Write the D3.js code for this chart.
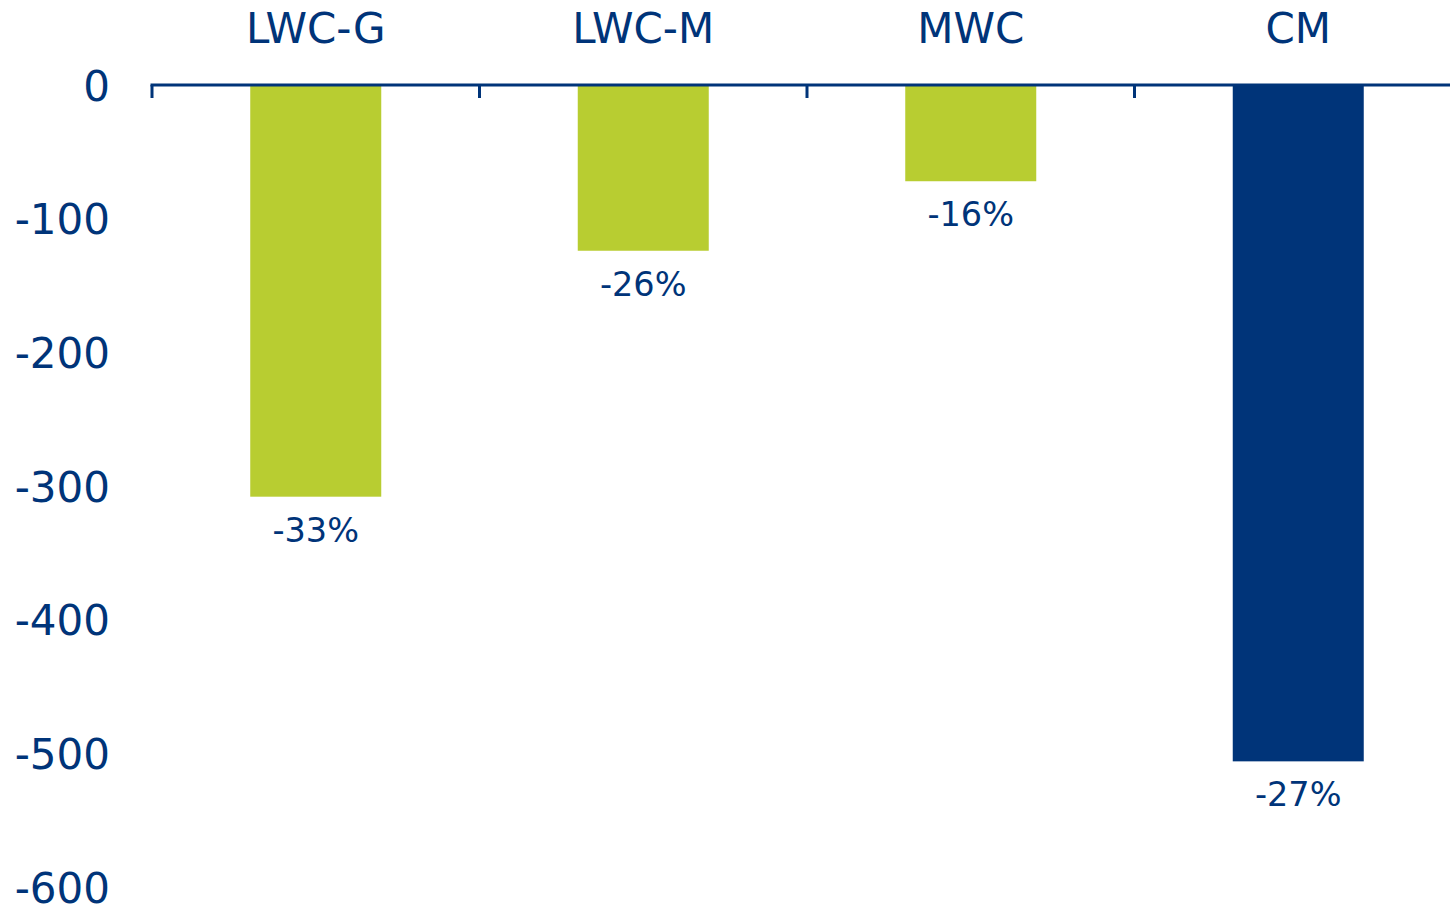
<!DOCTYPE html>
<html>
<head>
<meta charset="utf-8">
<script src="https://cdnjs.cloudflare.com/ajax/libs/d3/7.8.5/d3.min.js"></script>
<style>
	body { margin: 0; background: #fff; }
	svg text { font-family: "DejaVu Sans", Verdana, sans-serif; fill: #003479; }
</style>
</head>
<body>
<svg id="chart" width="1450" height="907"></svg>
<script>
// data
var categories = ["LWC-G", "LWC-M", "MWC", "CM"];
var values = [-308, -124, -72, -506];
var pctLabels = ["-33%", "-26%", "-16%", "-27%"];
var barColors = ["#b8cd31", "#b8cd31", "#b8cd31", "#003479"];
var yTicks = [0, -100, -200, -300, -400, -500, -600];

var navy = "#003479";
var svg = d3.select("#chart");

// plot area (window.top is reserved, so prefixed names)
var plotLeft = 152, plotRight = 1462, plotTop = 85, plotBottom = 887;

var x = d3.scaleBand()
	.domain(categories)
	.range([plotLeft, plotRight])
	.paddingInner(0.6)
	.paddingOuter(0.3);
var step = x.step();

var y = d3.scaleLinear()
	.domain([-600, 0])
	.range([plotBottom, plotTop]);

// bars
svg.selectAll(".bar")
	.data(categories)
	.enter().append("rect")
	.attr("class", "bar")
	.attr("x", function(d) { return x(d); })
	.attr("width", x.bandwidth())
	.attr("y", y(0))
	.attr("height", function(d, i) { return y(values[i]) - y(0); })
	.style("fill", function(d, i) { return barColors[i]; });

// value labels under bars
svg.selectAll(".val")
	.data(categories)
	.enter().append("text")
	.attr("class", "val")
	.attr("x", function(d) { return x(d) + x.bandwidth() / 2; })
	.attr("y", function(d, i) { return y(values[i]) + 45; })
	.attr("text-anchor", "middle")
	.style("font-size", "33.5px")
	.text(function(d, i) { return pctLabels[i]; });

// category labels above the zero line
svg.selectAll(".cat")
	.data(categories)
	.enter().append("text")
	.attr("class", "cat")
	.attr("x", function(d) { return x(d) + x.bandwidth() / 2; })
	.attr("y", 43)
	.attr("text-anchor", "middle")
	.style("font-size", "42px")
	.text(function(d) { return d; });

// zero line with category ticks
svg.append("line")
	.attr("x1", plotLeft - 1.5)
	.attr("x2", 1450)
	.attr("y1", y(0))
	.attr("y2", y(0))
	.attr("stroke", navy)
	.attr("stroke-width", 3);

svg.selectAll(".xtick")
	.data(d3.range(categories.length + 1))
	.enter().append("line")
	.attr("class", "xtick")
	.attr("x1", function(i) { return plotLeft + i * step; })
	.attr("x2", function(i) { return plotLeft + i * step; })
	.attr("y1", y(0))
	.attr("y2", y(0) + 13)
	.attr("stroke", navy)
	.attr("stroke-width", 3);

// y axis labels (no line), plain hyphen minus like the reference
var yAxis = d3.axisLeft(y).tickValues(yTicks).tickSize(0).tickPadding(0)
	.tickFormat(function(d) { return String(d); });
var gy = svg.append("g")
	.attr("transform", "translate(110,0)")
	.call(yAxis);
gy.select(".domain").remove();
gy.selectAll(".tick text")
	.attr("fill", navy)
	.attr("dy", "0.36em")
	.style("font-family", "'DejaVu Sans', Verdana, sans-serif")
	.style("font-size", "42px");
</script>
</body>
</html>
